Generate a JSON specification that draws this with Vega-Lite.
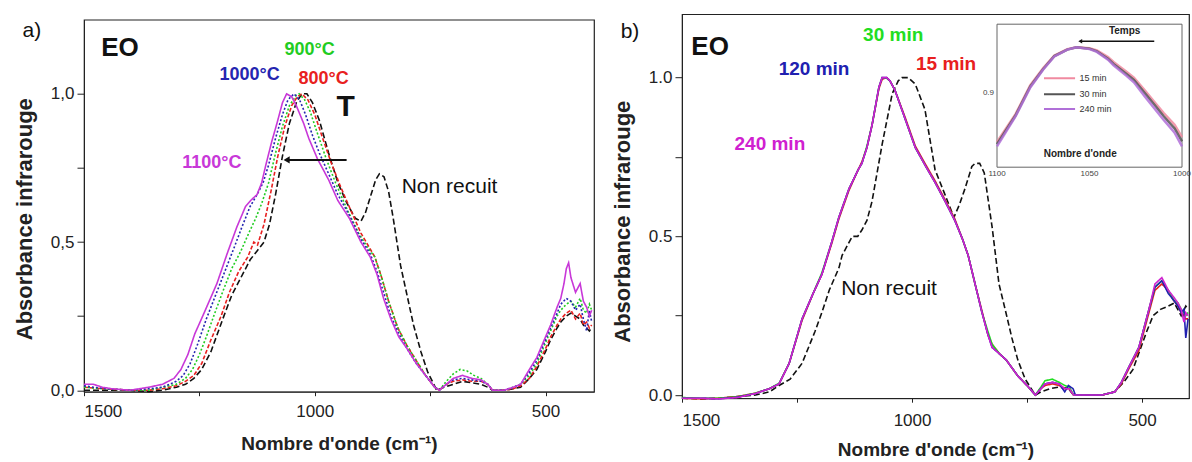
{
"$schema":"https://vega.github.io/schema/vega-lite/v6.json",
"background":"white",
"padding":{"left":12,"top":13,"right":2,"bottom":2},
"config":{"font":"Liberation Sans","view":{"stroke":"#222","strokeWidth":1.2},
"axis":{"domainColor":"#222","tickColor":"#222","labelColor":"#222","titleColor":"#222","grid":false,"labelFontSize":17,"labelFont":"Liberation Sans","titleFont":"Liberation Sans"},
"text":{"font":"Liberation Sans"}},
"datasets":{
"a":[
{"s":"Non recuit","x":1500,"y":0},{"s":"Non recuit","x":1460,"y":0},{"s":"Non recuit","x":1400,"y":0},{"s":"Non recuit","x":1360,"y":-0.005},{"s":"Non recuit","x":1330,"y":0},{"s":"Non recuit","x":1300,"y":0.01},{"s":"Non recuit","x":1280,"y":0.02},{"s":"Non recuit","x":1262,"y":0.04},{"s":"Non recuit","x":1245,"y":0.07},{"s":"Non recuit","x":1225,"y":0.13},{"s":"Non recuit","x":1197,"y":0.25},{"s":"Non recuit","x":1180,"y":0.32},{"s":"Non recuit","x":1160,"y":0.38},{"s":"Non recuit","x":1140,"y":0.44},{"s":"Non recuit","x":1125,"y":0.47},{"s":"Non recuit","x":1110,"y":0.5},{"s":"Non recuit","x":1098,"y":0.56},{"s":"Non recuit","x":1085,"y":0.66},{"s":"Non recuit","x":1070,"y":0.79},{"s":"Non recuit","x":1055,"y":0.9},{"s":"Non recuit","x":1040,"y":0.97},{"s":"Non recuit","x":1028,"y":1.0},{"s":"Non recuit","x":1017,"y":1.0},{"s":"Non recuit","x":1005,"y":0.97},{"s":"Non recuit","x":990,"y":0.91},{"s":"Non recuit","x":970,"y":0.8},{"s":"Non recuit","x":950,"y":0.7},{"s":"Non recuit","x":930,"y":0.63},{"s":"Non recuit","x":912,"y":0.58},{"s":"Non recuit","x":900,"y":0.57},{"s":"Non recuit","x":890,"y":0.6},{"s":"Non recuit","x":878,"y":0.66},{"s":"Non recuit","x":868,"y":0.71},{"s":"Non recuit","x":860,"y":0.73},{"s":"Non recuit","x":850,"y":0.72},{"s":"Non recuit","x":840,"y":0.67},{"s":"Non recuit","x":830,"y":0.58},{"s":"Non recuit","x":814,"y":0.42},{"s":"Non recuit","x":800,"y":0.32},{"s":"Non recuit","x":786,"y":0.22},{"s":"Non recuit","x":770,"y":0.13},{"s":"Non recuit","x":755,"y":0.06},{"s":"Non recuit","x":742,"y":0.02},{"s":"Non recuit","x":736,"y":0},{"s":"Non recuit","x":720,"y":0.01},{"s":"Non recuit","x":700,"y":0.02},{"s":"Non recuit","x":680,"y":0.03},{"s":"Non recuit","x":660,"y":0.025},{"s":"Non recuit","x":640,"y":0.02},{"s":"Non recuit","x":625,"y":0.01},{"s":"Non recuit","x":615,"y":0},{"s":"Non recuit","x":590,"y":0},{"s":"Non recuit","x":570,"y":0.005},{"s":"Non recuit","x":554,"y":0.01},{"s":"Non recuit","x":535,"y":0.04},{"s":"Non recuit","x":519,"y":0.07},{"s":"Non recuit","x":500,"y":0.13},{"s":"Non recuit","x":489,"y":0.17},{"s":"Non recuit","x":475,"y":0.21},{"s":"Non recuit","x":467,"y":0.23},{"s":"Non recuit","x":455,"y":0.25},{"s":"Non recuit","x":445,"y":0.26},{"s":"Non recuit","x":435,"y":0.25},{"s":"Non recuit","x":425,"y":0.24},{"s":"Non recuit","x":418,"y":0.22},{"s":"Non recuit","x":411,"y":0.21},{"s":"Non recuit","x":405,"y":0.2},{"s":"Non recuit","x":400,"y":0.21},
{"s":"800°C","x":1500,"y":0.01},{"s":"800°C","x":1460,"y":0.005},{"s":"800°C","x":1400,"y":0},{"s":"800°C","x":1360,"y":0},{"s":"800°C","x":1330,"y":0.005},{"s":"800°C","x":1300,"y":0.015},{"s":"800°C","x":1280,"y":0.03},{"s":"800°C","x":1262,"y":0.05},{"s":"800°C","x":1245,"y":0.09},{"s":"800°C","x":1225,"y":0.17},{"s":"800°C","x":1203,"y":0.25},{"s":"800°C","x":1185,"y":0.33},{"s":"800°C","x":1165,"y":0.4},{"s":"800°C","x":1145,"y":0.45},{"s":"800°C","x":1132,"y":0.5},{"s":"800°C","x":1124,"y":0.49},{"s":"800°C","x":1110,"y":0.56},{"s":"800°C","x":1095,"y":0.67},{"s":"800°C","x":1080,"y":0.79},{"s":"800°C","x":1065,"y":0.89},{"s":"800°C","x":1050,"y":0.96},{"s":"800°C","x":1038,"y":0.99},{"s":"800°C","x":1028,"y":1.0},{"s":"800°C","x":1015,"y":0.98},{"s":"800°C","x":1000,"y":0.93},{"s":"800°C","x":985,"y":0.86},{"s":"800°C","x":965,"y":0.77},{"s":"800°C","x":945,"y":0.69},{"s":"800°C","x":920,"y":0.6},{"s":"800°C","x":900,"y":0.53},{"s":"800°C","x":885,"y":0.49},{"s":"800°C","x":870,"y":0.45},{"s":"800°C","x":855,"y":0.38},{"s":"800°C","x":840,"y":0.3},{"s":"800°C","x":820,"y":0.21},{"s":"800°C","x":800,"y":0.15},{"s":"800°C","x":780,"y":0.1},{"s":"800°C","x":760,"y":0.05},{"s":"800°C","x":740,"y":0.01},{"s":"800°C","x":730,"y":0},{"s":"800°C","x":715,"y":0.02},{"s":"800°C","x":700,"y":0.03},{"s":"800°C","x":680,"y":0.035},{"s":"800°C","x":660,"y":0.03},{"s":"800°C","x":640,"y":0.03},{"s":"800°C","x":625,"y":0.02},{"s":"800°C","x":615,"y":0},{"s":"800°C","x":590,"y":0},{"s":"800°C","x":570,"y":0.005},{"s":"800°C","x":554,"y":0.015},{"s":"800°C","x":535,"y":0.04},{"s":"800°C","x":519,"y":0.08},{"s":"800°C","x":500,"y":0.14},{"s":"800°C","x":489,"y":0.18},{"s":"800°C","x":475,"y":0.22},{"s":"800°C","x":467,"y":0.24},{"s":"800°C","x":455,"y":0.26},{"s":"800°C","x":445,"y":0.27},{"s":"800°C","x":435,"y":0.24},{"s":"800°C","x":425,"y":0.26},{"s":"800°C","x":418,"y":0.22},{"s":"800°C","x":411,"y":0.23},{"s":"800°C","x":405,"y":0.21},{"s":"800°C","x":400,"y":0.22},
{"s":"900°C","x":1500,"y":0.01},{"s":"900°C","x":1460,"y":0.005},{"s":"900°C","x":1400,"y":0},{"s":"900°C","x":1360,"y":0},{"s":"900°C","x":1330,"y":0.01},{"s":"900°C","x":1300,"y":0.02},{"s":"900°C","x":1280,"y":0.04},{"s":"900°C","x":1265,"y":0.07},{"s":"900°C","x":1250,"y":0.12},{"s":"900°C","x":1235,"y":0.18},{"s":"900°C","x":1219,"y":0.25},{"s":"900°C","x":1200,"y":0.33},{"s":"900°C","x":1180,"y":0.41},{"s":"900°C","x":1160,"y":0.47},{"s":"900°C","x":1143,"y":0.53},{"s":"900°C","x":1128,"y":0.58},{"s":"900°C","x":1115,"y":0.63},{"s":"900°C","x":1100,"y":0.7},{"s":"900°C","x":1085,"y":0.8},{"s":"900°C","x":1070,"y":0.89},{"s":"900°C","x":1055,"y":0.96},{"s":"900°C","x":1040,"y":0.995},{"s":"900°C","x":1034,"y":1.0},{"s":"900°C","x":1022,"y":0.98},{"s":"900°C","x":1010,"y":0.94},{"s":"900°C","x":995,"y":0.87},{"s":"900°C","x":975,"y":0.78},{"s":"900°C","x":955,"y":0.7},{"s":"900°C","x":930,"y":0.61},{"s":"900°C","x":905,"y":0.53},{"s":"900°C","x":885,"y":0.48},{"s":"900°C","x":870,"y":0.45},{"s":"900°C","x":855,"y":0.38},{"s":"900°C","x":840,"y":0.3},{"s":"900°C","x":820,"y":0.21},{"s":"900°C","x":800,"y":0.15},{"s":"900°C","x":780,"y":0.1},{"s":"900°C","x":760,"y":0.05},{"s":"900°C","x":740,"y":0.01},{"s":"900°C","x":730,"y":0},{"s":"900°C","x":715,"y":0.03},{"s":"900°C","x":700,"y":0.055},{"s":"900°C","x":685,"y":0.07},{"s":"900°C","x":670,"y":0.065},{"s":"900°C","x":655,"y":0.05},{"s":"900°C","x":640,"y":0.04},{"s":"900°C","x":625,"y":0.02},{"s":"900°C","x":615,"y":0},{"s":"900°C","x":590,"y":0},{"s":"900°C","x":570,"y":0.01},{"s":"900°C","x":554,"y":0.02},{"s":"900°C","x":535,"y":0.05},{"s":"900°C","x":519,"y":0.09},{"s":"900°C","x":500,"y":0.16},{"s":"900°C","x":489,"y":0.2},{"s":"900°C","x":475,"y":0.25},{"s":"900°C","x":467,"y":0.27},{"s":"900°C","x":455,"y":0.29},{"s":"900°C","x":445,"y":0.3},{"s":"900°C","x":435,"y":0.28},{"s":"900°C","x":425,"y":0.31},{"s":"900°C","x":418,"y":0.27},{"s":"900°C","x":411,"y":0.26},{"s":"900°C","x":405,"y":0.29},{"s":"900°C","x":400,"y":0.27},
{"s":"1000°C","x":1500,"y":0.015},{"s":"1000°C","x":1480,"y":0.01},{"s":"1000°C","x":1450,"y":0.005},{"s":"1000°C","x":1400,"y":0},{"s":"1000°C","x":1360,"y":0.005},{"s":"1000°C","x":1330,"y":0.01},{"s":"1000°C","x":1300,"y":0.03},{"s":"1000°C","x":1285,"y":0.05},{"s":"1000°C","x":1270,"y":0.09},{"s":"1000°C","x":1255,"y":0.15},{"s":"1000°C","x":1235,"y":0.24},{"s":"1000°C","x":1215,"y":0.32},{"s":"1000°C","x":1195,"y":0.4},{"s":"1000°C","x":1175,"y":0.48},{"s":"1000°C","x":1158,"y":0.55},{"s":"1000°C","x":1140,"y":0.62},{"s":"1000°C","x":1125,"y":0.66},{"s":"1000°C","x":1112,"y":0.7},{"s":"1000°C","x":1100,"y":0.76},{"s":"1000°C","x":1085,"y":0.85},{"s":"1000°C","x":1070,"y":0.93},{"s":"1000°C","x":1058,"y":0.98},{"s":"1000°C","x":1045,"y":1.0},{"s":"1000°C","x":1033,"y":0.98},{"s":"1000°C","x":1020,"y":0.93},{"s":"1000°C","x":1005,"y":0.86},{"s":"1000°C","x":990,"y":0.8},{"s":"1000°C","x":970,"y":0.73},{"s":"1000°C","x":950,"y":0.66},{"s":"1000°C","x":925,"y":0.59},{"s":"1000°C","x":900,"y":0.51},{"s":"1000°C","x":880,"y":0.46},{"s":"1000°C","x":865,"y":0.4},{"s":"1000°C","x":851,"y":0.33},{"s":"1000°C","x":835,"y":0.25},{"s":"1000°C","x":818,"y":0.19},{"s":"1000°C","x":800,"y":0.14},{"s":"1000°C","x":780,"y":0.09},{"s":"1000°C","x":760,"y":0.05},{"s":"1000°C","x":740,"y":0.01},{"s":"1000°C","x":730,"y":0},{"s":"1000°C","x":715,"y":0.02},{"s":"1000°C","x":700,"y":0.035},{"s":"1000°C","x":680,"y":0.04},{"s":"1000°C","x":660,"y":0.035},{"s":"1000°C","x":640,"y":0.03},{"s":"1000°C","x":625,"y":0.02},{"s":"1000°C","x":615,"y":0},{"s":"1000°C","x":590,"y":0},{"s":"1000°C","x":570,"y":0.01},{"s":"1000°C","x":554,"y":0.02},{"s":"1000°C","x":535,"y":0.06},{"s":"1000°C","x":519,"y":0.1},{"s":"1000°C","x":500,"y":0.17},{"s":"1000°C","x":489,"y":0.21},{"s":"1000°C","x":475,"y":0.26},{"s":"1000°C","x":467,"y":0.29},{"s":"1000°C","x":455,"y":0.31},{"s":"1000°C","x":445,"y":0.3},{"s":"1000°C","x":435,"y":0.27},{"s":"1000°C","x":425,"y":0.29},{"s":"1000°C","x":418,"y":0.24},{"s":"1000°C","x":411,"y":0.2},{"s":"1000°C","x":405,"y":0.27},{"s":"1000°C","x":400,"y":0.23},
{"s":"1100°C","x":1500,"y":0.02},{"s":"1100°C","x":1480,"y":0.02},{"s":"1100°C","x":1460,"y":0.01},{"s":"1100°C","x":1440,"y":0.005},{"s":"1100°C","x":1400,"y":0},{"s":"1100°C","x":1360,"y":0.01},{"s":"1100°C","x":1330,"y":0.02},{"s":"1100°C","x":1305,"y":0.04},{"s":"1100°C","x":1290,"y":0.07},{"s":"1100°C","x":1275,"y":0.12},{"s":"1100°C","x":1260,"y":0.19},{"s":"1100°C","x":1240,"y":0.26},{"s":"1100°C","x":1212,"y":0.36},{"s":"1100°C","x":1190,"y":0.46},{"s":"1100°C","x":1169,"y":0.55},{"s":"1100°C","x":1150,"y":0.62},{"s":"1100°C","x":1139,"y":0.64},{"s":"1100°C","x":1125,"y":0.66},{"s":"1100°C","x":1115,"y":0.7},{"s":"1100°C","x":1106,"y":0.76},{"s":"1100°C","x":1093,"y":0.84},{"s":"1100°C","x":1082,"y":0.9},{"s":"1100°C","x":1070,"y":0.97},{"s":"1100°C","x":1061,"y":1.0},{"s":"1100°C","x":1050,"y":0.99},{"s":"1100°C","x":1040,"y":0.96},{"s":"1100°C","x":1024,"y":0.9},{"s":"1100°C","x":1013,"y":0.85},{"s":"1100°C","x":994,"y":0.78},{"s":"1100°C","x":970,"y":0.71},{"s":"1100°C","x":950,"y":0.64},{"s":"1100°C","x":925,"y":0.58},{"s":"1100°C","x":900,"y":0.5},{"s":"1100°C","x":880,"y":0.45},{"s":"1100°C","x":865,"y":0.39},{"s":"1100°C","x":851,"y":0.31},{"s":"1100°C","x":835,"y":0.24},{"s":"1100°C","x":818,"y":0.18},{"s":"1100°C","x":800,"y":0.14},{"s":"1100°C","x":780,"y":0.09},{"s":"1100°C","x":760,"y":0.05},{"s":"1100°C","x":740,"y":0.01},{"s":"1100°C","x":730,"y":0},{"s":"1100°C","x":715,"y":0.02},{"s":"1100°C","x":700,"y":0.04},{"s":"1100°C","x":680,"y":0.05},{"s":"1100°C","x":660,"y":0.04},{"s":"1100°C","x":640,"y":0.035},{"s":"1100°C","x":625,"y":0.02},{"s":"1100°C","x":615,"y":0},{"s":"1100°C","x":590,"y":0},{"s":"1100°C","x":570,"y":0.01},{"s":"1100°C","x":554,"y":0.02},{"s":"1100°C","x":535,"y":0.07},{"s":"1100°C","x":519,"y":0.11},{"s":"1100°C","x":500,"y":0.18},{"s":"1100°C","x":489,"y":0.22},{"s":"1100°C","x":475,"y":0.28},{"s":"1100°C","x":467,"y":0.31},{"s":"1100°C","x":460,"y":0.36},{"s":"1100°C","x":455,"y":0.41},{"s":"1100°C","x":450,"y":0.43},{"s":"1100°C","x":445,"y":0.38},{"s":"1100°C","x":435,"y":0.33},{"s":"1100°C","x":425,"y":0.36},{"s":"1100°C","x":418,"y":0.3},{"s":"1100°C","x":411,"y":0.28},{"s":"1100°C","x":405,"y":0.25},{"s":"1100°C","x":400,"y":0.27}
],
"b":[
{"s":"Non recuit","x":1500,"y":-0.01},{"s":"Non recuit","x":1460,"y":-0.012},{"s":"Non recuit","x":1420,"y":-0.01},{"s":"Non recuit","x":1380,"y":-0.005},{"s":"Non recuit","x":1340,"y":0},{"s":"Non recuit","x":1310,"y":0.01},{"s":"Non recuit","x":1289,"y":0.03},{"s":"Non recuit","x":1265,"y":0.05},{"s":"Non recuit","x":1239,"y":0.1},{"s":"Non recuit","x":1211,"y":0.2},{"s":"Non recuit","x":1196,"y":0.26},{"s":"Non recuit","x":1180,"y":0.33},{"s":"Non recuit","x":1159,"y":0.4},{"s":"Non recuit","x":1152,"y":0.44},{"s":"Non recuit","x":1130,"y":0.5},{"s":"Non recuit","x":1118,"y":0.5},{"s":"Non recuit","x":1109,"y":0.52},{"s":"Non recuit","x":1098,"y":0.55},{"s":"Non recuit","x":1087,"y":0.61},{"s":"Non recuit","x":1065,"y":0.79},{"s":"Non recuit","x":1043,"y":0.95},{"s":"Non recuit","x":1030,"y":0.99},{"s":"Non recuit","x":1022,"y":1.0},{"s":"Non recuit","x":1008,"y":1.0},{"s":"Non recuit","x":993,"y":0.98},{"s":"Non recuit","x":972,"y":0.9},{"s":"Non recuit","x":950,"y":0.71},{"s":"Non recuit","x":928,"y":0.63},{"s":"Non recuit","x":909,"y":0.56},{"s":"Non recuit","x":897,"y":0.6},{"s":"Non recuit","x":885,"y":0.65},{"s":"Non recuit","x":870,"y":0.72},{"s":"Non recuit","x":863,"y":0.73},{"s":"Non recuit","x":853,"y":0.73},{"s":"Non recuit","x":843,"y":0.7},{"s":"Non recuit","x":826,"y":0.53},{"s":"Non recuit","x":811,"y":0.35},{"s":"Non recuit","x":796,"y":0.26},{"s":"Non recuit","x":783,"y":0.18},{"s":"Non recuit","x":770,"y":0.11},{"s":"Non recuit","x":754,"y":0.05},{"s":"Non recuit","x":732,"y":0},{"s":"Non recuit","x":720,"y":0.01},{"s":"Non recuit","x":700,"y":0.02},{"s":"Non recuit","x":680,"y":0.025},{"s":"Non recuit","x":660,"y":0.02},{"s":"Non recuit","x":649,"y":0},{"s":"Non recuit","x":620,"y":0},{"s":"Non recuit","x":587,"y":0},{"s":"Non recuit","x":560,"y":0.01},{"s":"Non recuit","x":540,"y":0.04},{"s":"Non recuit","x":520,"y":0.08},{"s":"Non recuit","x":515,"y":0.1},{"s":"Non recuit","x":500,"y":0.16},{"s":"Non recuit","x":490,"y":0.2},{"s":"Non recuit","x":476,"y":0.25},{"s":"Non recuit","x":460,"y":0.27},{"s":"Non recuit","x":443,"y":0.28},{"s":"Non recuit","x":430,"y":0.29},{"s":"Non recuit","x":415,"y":0.25},{"s":"Non recuit","x":405,"y":0.28},{"s":"Non recuit","x":400,"y":0.27},
{"s":"15 min","x":1500,"y":-0.01},{"s":"15 min","x":1460,"y":-0.012},{"s":"15 min","x":1420,"y":-0.01},{"s":"15 min","x":1380,"y":-0.005},{"s":"15 min","x":1340,"y":0.006},{"s":"15 min","x":1310,"y":0.02},{"s":"15 min","x":1289,"y":0.035},{"s":"15 min","x":1267,"y":0.1},{"s":"15 min","x":1239,"y":0.235},{"s":"15 min","x":1215,"y":0.32},{"s":"15 min","x":1196,"y":0.38},{"s":"15 min","x":1175,"y":0.475},{"s":"15 min","x":1159,"y":0.555},{"s":"15 min","x":1137,"y":0.645},{"s":"15 min","x":1117,"y":0.71},{"s":"15 min","x":1109,"y":0.735},{"s":"15 min","x":1098,"y":0.78},{"s":"15 min","x":1087,"y":0.85},{"s":"15 min","x":1072,"y":0.965},{"s":"15 min","x":1065,"y":0.995},{"s":"15 min","x":1055,"y":1.0},{"s":"15 min","x":1048,"y":0.99},{"s":"15 min","x":1037,"y":0.96},{"s":"15 min","x":1015,"y":0.875},{"s":"15 min","x":993,"y":0.785},{"s":"15 min","x":970,"y":0.725},{"s":"15 min","x":950,"y":0.675},{"s":"15 min","x":928,"y":0.615},{"s":"15 min","x":907,"y":0.555},{"s":"15 min","x":890,"y":0.49},{"s":"15 min","x":878,"y":0.44},{"s":"15 min","x":863,"y":0.35},{"s":"15 min","x":848,"y":0.265},{"s":"15 min","x":835,"y":0.19},{"s":"15 min","x":826,"y":0.16},{"s":"15 min","x":810,"y":0.13},{"s":"15 min","x":795,"y":0.11},{"s":"15 min","x":770,"y":0.06},{"s":"15 min","x":750,"y":0.03},{"s":"15 min","x":732,"y":0},{"s":"15 min","x":720,"y":0.02},{"s":"15 min","x":711,"y":0.03},{"s":"15 min","x":695,"y":0.035},{"s":"15 min","x":680,"y":0.03},{"s":"15 min","x":668,"y":0.02},{"s":"15 min","x":658,"y":0.02},{"s":"15 min","x":649,"y":0},{"s":"15 min","x":620,"y":0},{"s":"15 min","x":587,"y":0},{"s":"15 min","x":573,"y":0.005},{"s":"15 min","x":559,"y":0.01},{"s":"15 min","x":545,"y":0.035},{"s":"15 min","x":528,"y":0.085},{"s":"15 min","x":507,"y":0.14},{"s":"15 min","x":496,"y":0.2},{"s":"15 min","x":485,"y":0.26},{"s":"15 min","x":472,"y":0.33},{"s":"15 min","x":457,"y":0.35},{"s":"15 min","x":443,"y":0.33},{"s":"15 min","x":432,"y":0.3},{"s":"15 min","x":422,"y":0.28},{"s":"15 min","x":415,"y":0.26},{"s":"15 min","x":409,"y":0.25},{"s":"15 min","x":405,"y":0.24},{"s":"15 min","x":400,"y":0.24},
{"s":"30 min","x":1500,"y":-0.008},{"s":"30 min","x":1460,"y":-0.01},{"s":"30 min","x":1420,"y":-0.01},{"s":"30 min","x":1380,"y":-0.006},{"s":"30 min","x":1340,"y":0.006},{"s":"30 min","x":1310,"y":0.02},{"s":"30 min","x":1289,"y":0.037},{"s":"30 min","x":1267,"y":0.1},{"s":"30 min","x":1239,"y":0.24},{"s":"30 min","x":1215,"y":0.32},{"s":"30 min","x":1196,"y":0.385},{"s":"30 min","x":1175,"y":0.48},{"s":"30 min","x":1159,"y":0.56},{"s":"30 min","x":1137,"y":0.65},{"s":"30 min","x":1117,"y":0.71},{"s":"30 min","x":1109,"y":0.73},{"s":"30 min","x":1098,"y":0.785},{"s":"30 min","x":1087,"y":0.85},{"s":"30 min","x":1072,"y":0.97},{"s":"30 min","x":1065,"y":1.0},{"s":"30 min","x":1055,"y":0.998},{"s":"30 min","x":1048,"y":0.99},{"s":"30 min","x":1037,"y":0.96},{"s":"30 min","x":1015,"y":0.87},{"s":"30 min","x":993,"y":0.78},{"s":"30 min","x":970,"y":0.72},{"s":"30 min","x":950,"y":0.67},{"s":"30 min","x":928,"y":0.61},{"s":"30 min","x":907,"y":0.55},{"s":"30 min","x":890,"y":0.49},{"s":"30 min","x":878,"y":0.44},{"s":"30 min","x":863,"y":0.35},{"s":"30 min","x":848,"y":0.26},{"s":"30 min","x":835,"y":0.2},{"s":"30 min","x":826,"y":0.16},{"s":"30 min","x":810,"y":0.13},{"s":"30 min","x":795,"y":0.11},{"s":"30 min","x":770,"y":0.06},{"s":"30 min","x":750,"y":0.03},{"s":"30 min","x":732,"y":0},{"s":"30 min","x":720,"y":0.025},{"s":"30 min","x":711,"y":0.045},{"s":"30 min","x":695,"y":0.05},{"s":"30 min","x":680,"y":0.04},{"s":"30 min","x":668,"y":0.03},{"s":"30 min","x":658,"y":0.025},{"s":"30 min","x":649,"y":0},{"s":"30 min","x":620,"y":0},{"s":"30 min","x":587,"y":0},{"s":"30 min","x":573,"y":0.005},{"s":"30 min","x":559,"y":0.01},{"s":"30 min","x":545,"y":0.04},{"s":"30 min","x":528,"y":0.09},{"s":"30 min","x":507,"y":0.15},{"s":"30 min","x":496,"y":0.21},{"s":"30 min","x":485,"y":0.27},{"s":"30 min","x":472,"y":0.34},{"s":"30 min","x":457,"y":0.36},{"s":"30 min","x":443,"y":0.33},{"s":"30 min","x":432,"y":0.3},{"s":"30 min","x":422,"y":0.29},{"s":"30 min","x":415,"y":0.27},{"s":"30 min","x":409,"y":0.26},{"s":"30 min","x":405,"y":0.25},{"s":"30 min","x":400,"y":0.26},
{"s":"120 min","x":1500,"y":-0.01},{"s":"120 min","x":1460,"y":-0.01},{"s":"120 min","x":1420,"y":-0.012},{"s":"120 min","x":1380,"y":-0.007},{"s":"120 min","x":1340,"y":0.005},{"s":"120 min","x":1310,"y":0.02},{"s":"120 min","x":1289,"y":0.035},{"s":"120 min","x":1267,"y":0.1},{"s":"120 min","x":1239,"y":0.24},{"s":"120 min","x":1215,"y":0.32},{"s":"120 min","x":1196,"y":0.38},{"s":"120 min","x":1175,"y":0.48},{"s":"120 min","x":1159,"y":0.56},{"s":"120 min","x":1137,"y":0.65},{"s":"120 min","x":1117,"y":0.71},{"s":"120 min","x":1109,"y":0.73},{"s":"120 min","x":1098,"y":0.78},{"s":"120 min","x":1087,"y":0.85},{"s":"120 min","x":1072,"y":0.97},{"s":"120 min","x":1065,"y":1.0},{"s":"120 min","x":1055,"y":1.0},{"s":"120 min","x":1048,"y":0.99},{"s":"120 min","x":1037,"y":0.96},{"s":"120 min","x":1015,"y":0.87},{"s":"120 min","x":993,"y":0.78},{"s":"120 min","x":970,"y":0.72},{"s":"120 min","x":950,"y":0.67},{"s":"120 min","x":928,"y":0.61},{"s":"120 min","x":907,"y":0.55},{"s":"120 min","x":890,"y":0.49},{"s":"120 min","x":878,"y":0.44},{"s":"120 min","x":863,"y":0.35},{"s":"120 min","x":848,"y":0.26},{"s":"120 min","x":835,"y":0.19},{"s":"120 min","x":826,"y":0.15},{"s":"120 min","x":810,"y":0.13},{"s":"120 min","x":795,"y":0.11},{"s":"120 min","x":770,"y":0.06},{"s":"120 min","x":750,"y":0.03},{"s":"120 min","x":732,"y":0},{"s":"120 min","x":720,"y":0.02},{"s":"120 min","x":711,"y":0.035},{"s":"120 min","x":695,"y":0.04},{"s":"120 min","x":680,"y":0.035},{"s":"120 min","x":668,"y":0.01},{"s":"120 min","x":660,"y":0.03},{"s":"120 min","x":650,"y":0.02},{"s":"120 min","x":645,"y":0},{"s":"120 min","x":620,"y":0},{"s":"120 min","x":587,"y":0},{"s":"120 min","x":573,"y":0.005},{"s":"120 min","x":559,"y":0.01},{"s":"120 min","x":545,"y":0.04},{"s":"120 min","x":528,"y":0.09},{"s":"120 min","x":507,"y":0.15},{"s":"120 min","x":496,"y":0.21},{"s":"120 min","x":485,"y":0.27},{"s":"120 min","x":472,"y":0.34},{"s":"120 min","x":457,"y":0.36},{"s":"120 min","x":443,"y":0.32},{"s":"120 min","x":432,"y":0.3},{"s":"120 min","x":422,"y":0.28},{"s":"120 min","x":415,"y":0.26},{"s":"120 min","x":409,"y":0.27},{"s":"120 min","x":405,"y":0.18},{"s":"120 min","x":400,"y":0.24},
{"s":"240 min","x":1500,"y":-0.01},{"s":"240 min","x":1460,"y":-0.01},{"s":"240 min","x":1420,"y":-0.012},{"s":"240 min","x":1380,"y":-0.008},{"s":"240 min","x":1340,"y":0.005},{"s":"240 min","x":1310,"y":0.02},{"s":"240 min","x":1289,"y":0.035},{"s":"240 min","x":1267,"y":0.1},{"s":"240 min","x":1239,"y":0.24},{"s":"240 min","x":1215,"y":0.32},{"s":"240 min","x":1196,"y":0.38},{"s":"240 min","x":1175,"y":0.48},{"s":"240 min","x":1159,"y":0.56},{"s":"240 min","x":1137,"y":0.65},{"s":"240 min","x":1117,"y":0.71},{"s":"240 min","x":1109,"y":0.73},{"s":"240 min","x":1098,"y":0.78},{"s":"240 min","x":1087,"y":0.85},{"s":"240 min","x":1072,"y":0.97},{"s":"240 min","x":1065,"y":1.0},{"s":"240 min","x":1055,"y":1.0},{"s":"240 min","x":1048,"y":0.99},{"s":"240 min","x":1037,"y":0.96},{"s":"240 min","x":1015,"y":0.87},{"s":"240 min","x":993,"y":0.78},{"s":"240 min","x":970,"y":0.72},{"s":"240 min","x":950,"y":0.67},{"s":"240 min","x":928,"y":0.61},{"s":"240 min","x":907,"y":0.55},{"s":"240 min","x":890,"y":0.49},{"s":"240 min","x":878,"y":0.44},{"s":"240 min","x":863,"y":0.35},{"s":"240 min","x":848,"y":0.26},{"s":"240 min","x":835,"y":0.19},{"s":"240 min","x":826,"y":0.15},{"s":"240 min","x":810,"y":0.13},{"s":"240 min","x":795,"y":0.11},{"s":"240 min","x":770,"y":0.06},{"s":"240 min","x":750,"y":0.03},{"s":"240 min","x":732,"y":0},{"s":"240 min","x":720,"y":0.02},{"s":"240 min","x":711,"y":0.035},{"s":"240 min","x":695,"y":0.04},{"s":"240 min","x":680,"y":0.035},{"s":"240 min","x":668,"y":0.02},{"s":"240 min","x":658,"y":0.02},{"s":"240 min","x":649,"y":0},{"s":"240 min","x":620,"y":0},{"s":"240 min","x":587,"y":0},{"s":"240 min","x":573,"y":0.005},{"s":"240 min","x":559,"y":0.01},{"s":"240 min","x":545,"y":0.04},{"s":"240 min","x":528,"y":0.09},{"s":"240 min","x":507,"y":0.15},{"s":"240 min","x":496,"y":0.21},{"s":"240 min","x":485,"y":0.27},{"s":"240 min","x":472,"y":0.35},{"s":"240 min","x":457,"y":0.37},{"s":"240 min","x":443,"y":0.33},{"s":"240 min","x":432,"y":0.31},{"s":"240 min","x":422,"y":0.29},{"s":"240 min","x":415,"y":0.27},{"s":"240 min","x":409,"y":0.23},{"s":"240 min","x":405,"y":0.26},{"s":"240 min","x":400,"y":0.25}
],
"ins":[
{"s":"15 min","x":1100,"y":0.795},{"s":"15 min","x":1090,"y":0.855},{"s":"15 min","x":1082,"y":0.918},{"s":"15 min","x":1075,"y":0.955},{"s":"15 min","x":1069,"y":0.982},{"s":"15 min","x":1062,"y":0.996},{"s":"15 min","x":1057,"y":1.0},{"s":"15 min","x":1050,"y":0.998},{"s":"15 min","x":1046,"y":0.993},{"s":"15 min","x":1040,"y":0.979},{"s":"15 min","x":1037,"y":0.968},{"s":"15 min","x":1030,"y":0.947},{"s":"15 min","x":1026,"y":0.934},{"s":"15 min","x":1020,"y":0.906},{"s":"15 min","x":1015,"y":0.882},{"s":"15 min","x":1010,"y":0.858},{"s":"15 min","x":1004,"y":0.832},{"s":"15 min","x":1000,"y":0.805},
{"s":"30 min","x":1100,"y":0.79},{"s":"30 min","x":1090,"y":0.852},{"s":"30 min","x":1082,"y":0.915},{"s":"30 min","x":1075,"y":0.953},{"s":"30 min","x":1069,"y":0.981},{"s":"30 min","x":1062,"y":0.995},{"s":"30 min","x":1057,"y":1.0},{"s":"30 min","x":1050,"y":0.997},{"s":"30 min","x":1046,"y":0.991},{"s":"30 min","x":1040,"y":0.975},{"s":"30 min","x":1037,"y":0.964},{"s":"30 min","x":1030,"y":0.942},{"s":"30 min","x":1026,"y":0.929},{"s":"30 min","x":1020,"y":0.9},{"s":"30 min","x":1015,"y":0.876},{"s":"30 min","x":1010,"y":0.851},{"s":"30 min","x":1004,"y":0.824},{"s":"30 min","x":1000,"y":0.796},
{"s":"240 min","x":1100,"y":0.785},{"s":"240 min","x":1090,"y":0.85},{"s":"240 min","x":1082,"y":0.913},{"s":"240 min","x":1075,"y":0.952},{"s":"240 min","x":1069,"y":0.98},{"s":"240 min","x":1062,"y":0.995},{"s":"240 min","x":1057,"y":1.0},{"s":"240 min","x":1050,"y":0.996},{"s":"240 min","x":1046,"y":0.99},{"s":"240 min","x":1040,"y":0.973},{"s":"240 min","x":1037,"y":0.961},{"s":"240 min","x":1030,"y":0.938},{"s":"240 min","x":1026,"y":0.924},{"s":"240 min","x":1020,"y":0.893},{"s":"240 min","x":1015,"y":0.868},{"s":"240 min","x":1010,"y":0.843},{"s":"240 min","x":1004,"y":0.815},{"s":"240 min","x":1000,"y":0.785}
],
"leg":[{"s":"15 min","x":1074.6,"x2":1057.8,"y":0.933,"tx":1056.5},{"s":"30 min","x":1074.6,"x2":1057.8,"y":0.898,"tx":1056.5},{"s":"240 min","x":1074.6,"x2":1057.8,"y":0.866,"tx":1056.5}]
},
"hconcat":[
{
"width":510,"height":372,
"layer":[
{"data":{"name":"a"},"mark":{"type":"line","strokeWidth":1.6},
"encoding":{
"x":{"field":"x","type":"quantitative","scale":{"domain":[395,1500],"reverse":true,"nice":false,"zero":false},
"axis":{"title":"Nombre d'onde (cm⁻¹)","values":[1500,1250,1000,750,500],"format":"d","labelExpr":"datum.value % 500 === 0 ? datum.label : ''","tickSize":4,"labelPadding":8,"titlePadding":15,"titleFontSize":19,"titleFontWeight":"bold"}},
"y":{"field":"y","type":"quantitative","scale":{"domain":[-0.005,1.25],"nice":false,"zero":false},
"axis":{"title":"Absorbance infrarouge","values":[0,0.25,0.5,0.75,1],"labelExpr":"datum.value % 0.5 === 0 ? replace(format(datum.value,'.1f'),'.',',') : ''","tickSize":7,"labelPadding":3,"titlePadding":14,"titleFontSize":22,"titleFontWeight":"bold","titleY":199}},
"color":{"field":"s","type":"nominal","scale":{"domain":["Non recuit","800°C","900°C","1000°C","1100°C"],"range":["#111111","#e82020","#22cc22","#2525b0","#c838d8"]},"legend":null},
"strokeDash":{"field":"s","type":"nominal","scale":{"domain":["Non recuit","800°C","900°C","1000°C","1100°C"],"range":[[6,3],[4,2],[2,2],[2,2],[1,0]]},"legend":null}
}},
{"data":{"values":[{"s":"900°C","x":1011,"y":1.149},{"s":"1000°C","x":1141,"y":1.064},{"s":"800°C","x":981,"y":1.051},{"s":"1100°C","x":1223,"y":0.767}]},
"mark":{"type":"text","fontSize":18,"fontWeight":"bold"},
"encoding":{"x":{"field":"x","type":"quantitative"},"y":{"field":"y","type":"quantitative"},"text":{"field":"s"},"color":{"field":"s","type":"nominal","legend":null}}},
{"data":{"values":[{"t":"EO","x":1422,"y":1.155}]},"mark":{"type":"text","fontSize":26,"fontWeight":"bold","color":"#111"},
"encoding":{"x":{"field":"x","type":"quantitative"},"y":{"field":"y","type":"quantitative"},"text":{"field":"t"}}},
{"data":{"values":[{"t":"T","x":933,"y":0.955}]},"mark":{"type":"text","fontSize":30,"fontWeight":"bold","color":"#111"},
"encoding":{"x":{"field":"x","type":"quantitative"},"y":{"field":"y","type":"quantitative"},"text":{"field":"t"}}},
{"data":{"values":[{"t":"Non recuit","x":708,"y":0.686},{"t":"a)","x":1613,"y":1.213}]},"mark":{"type":"text","fontSize":21,"color":"#111"},
"encoding":{"x":{"field":"x","type":"quantitative"},"y":{"field":"y","type":"quantitative"},"text":{"field":"t"}}},
{"data":{"values":[{"x":1061,"x2":931,"y":0.777}]},"mark":{"type":"rule","strokeWidth":2,"color":"#111"},
"encoding":{"x":{"field":"x","type":"quantitative"},"x2":{"field":"x2"},"y":{"field":"y","type":"quantitative"}}},
{"data":{"values":[{"x":1061,"y":0.777}]},"mark":{"type":"point","shape":"triangle-left","filled":true,"size":50,"color":"#111","opacity":1},
"encoding":{"x":{"field":"x","type":"quantitative"},"y":{"field":"y","type":"quantitative"}}}
]
},
{
"width":507,"height":384,
"layer":[
{"layer":[
{"data":{"name":"b"},"mark":{"type":"line","strokeWidth":1.6},
"encoding":{
"x":{"field":"x","type":"quantitative","scale":{"domain":[398,1500],"reverse":true,"nice":false,"zero":false},
"axis":{"title":"Nombre d'onde (cm⁻¹)","values":[1500,1250,1000,750,500],"format":"d","labelExpr":"datum.value % 500 === 0 ? datum.label : ''","tickSize":4,"labelPadding":10,"titlePadding":12,"titleFontSize":19,"titleFontWeight":"bold"}},
"y":{"field":"y","type":"quantitative","scale":{"domain":[-0.01,1.2],"nice":false,"zero":false},
"axis":{"title":"Absorbance infrarouge","values":[0,0.25,0.5,0.75,1],"labelExpr":"datum.value % 0.5 === 0 ? format(datum.value,'.1f') : ''","tickSize":7,"labelPadding":3,"titlePadding":14,"titleFontSize":22,"titleFontWeight":"bold","titleY":207}},
"color":{"field":"s","type":"nominal","scale":{"domain":["Non recuit","15 min","30 min","120 min","240 min"],"range":["#111111","#e82020","#22dd22","#2020b0","#d020d0"]},"legend":null},
"strokeDash":{"field":"s","type":"nominal","scale":{"domain":["Non recuit","15 min","30 min","120 min","240 min"],"range":[[6,3],[1,0],[1,0],[1,0],[1,0]]},"legend":null}
}},
{"data":{"values":[{"s":"30 min","x":1041,"y":1.133},{"s":"120 min","x":1213,"y":1.028},{"s":"15 min","x":926,"y":1.044},{"s":"240 min","x":1309,"y":0.792}]},
"mark":{"type":"text","fontSize":19,"fontWeight":"bold"},
"encoding":{"x":{"field":"x","type":"quantitative"},"y":{"field":"y","type":"quantitative"},"text":{"field":"s"},"color":{"field":"s","type":"nominal","legend":null}}},
{"data":{"values":[{"t":"EO","x":1439,"y":1.098}]},"mark":{"type":"text","fontSize":26,"fontWeight":"bold","color":"#111"},
"encoding":{"x":{"field":"x","type":"quantitative"},"y":{"field":"y","type":"quantitative"},"text":{"field":"t"}}},
{"data":{"values":[{"t":"Non recuit","x":1050,"y":0.334},{"t":"b)","x":1613,"y":1.145}]},"mark":{"type":"text","fontSize":21,"color":"#111"},
"encoding":{"x":{"field":"x","type":"quantitative"},"y":{"field":"y","type":"quantitative"},"text":{"field":"t"}}}
]},
{"layer":[
{"data":{"values":[{"x":1100,"x2":1000,"y":0.74,"y2":1.05}]},"mark":{"type":"rect","fill":"white","stroke":"#666","strokeWidth":1},
"encoding":{"x":{"field":"x","type":"quantitative","scale":{"domain":[1000,1100],"range":[500,315],"nice":false,"zero":false},"axis":null},"x2":{"field":"x2"},
"y":{"field":"y","type":"quantitative","scale":{"domain":[0.74,1.05],"range":[153,10],"nice":false,"zero":false},"axis":null},"y2":{"field":"y2"}}},
{"data":{"name":"ins"},"mark":{"type":"line","strokeWidth":2.5,"opacity":0.85},
"encoding":{"x":{"field":"x","type":"quantitative"},"y":{"field":"y","type":"quantitative"},
"color":{"field":"s","type":"nominal","scale":{"domain":["15 min","30 min","240 min"],"range":["#f08aa0","#555555","#b070d8"]},"legend":null}}},
{"data":{"name":"leg"},"mark":{"type":"rule","strokeWidth":2},
"encoding":{"x":{"field":"x","type":"quantitative"},"x2":{"field":"x2"},"y":{"field":"y","type":"quantitative"},"color":{"field":"s","type":"nominal","legend":null}}},
{"data":{"name":"leg"},"mark":{"type":"text","fontSize":9,"align":"left","dx":2,"color":"#333"},
"encoding":{"x":{"field":"tx","type":"quantitative"},"y":{"field":"y","type":"quantitative"},"text":{"field":"s"}}},
{"data":{"values":[{"t":"1100","x":1100},{"t":"1050","x":1050},{"t":"1000","x":1000}]},"mark":{"type":"text","fontSize":8,"baseline":"top","dy":3,"color":"#444"},
"encoding":{"x":{"field":"x","type":"quantitative"},"y":{"datum":0.74,"type":"quantitative"},"text":{"field":"t"}}},
{"data":{"values":[{"t":"0.9","y":0.9}]},"mark":{"type":"text","fontSize":8,"align":"right","dx":-3,"color":"#444"},
"encoding":{"x":{"datum":1100,"type":"quantitative"},"y":{"field":"y","type":"quantitative"},"text":{"field":"t"}}},
{"data":{"values":[{"t":"Temps","x":1031,"y":1.035},{"t":"Nombre d'onde","x":1055,"y":0.768}]},"mark":{"type":"text","fontSize":10,"fontWeight":"bold","color":"#222"},
"encoding":{"x":{"field":"x","type":"quantitative"},"y":{"field":"y","type":"quantitative"},"text":{"field":"t"}}},
{"data":{"values":[{"x":1055,"x2":1015,"y":1.013}]},"mark":{"type":"rule","strokeWidth":1.5,"color":"#111"},
"encoding":{"x":{"field":"x","type":"quantitative"},"x2":{"field":"x2"},"y":{"field":"y","type":"quantitative"}}},
{"data":{"values":[{"x":1055,"y":1.013}]},"mark":{"type":"point","shape":"triangle-left","filled":true,"size":20,"color":"#111","opacity":1},
"encoding":{"x":{"field":"x","type":"quantitative"},"y":{"field":"y","type":"quantitative"}}}
]}
],
"resolve":{"scale":{"x":"independent","y":"independent","color":"independent","strokeDash":"independent"}}
}
],
"spacing":14,
"center":true
}
